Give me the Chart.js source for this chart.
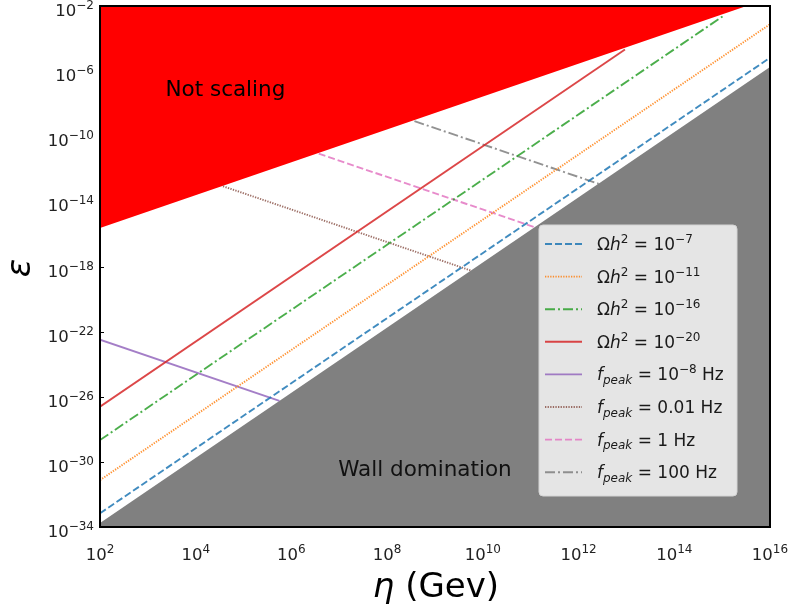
<!DOCTYPE html>
<html>
<head>
<meta charset="utf-8">
<script src="https://cdn.jsdelivr.net/npm/chart.js@4.4.0/dist/chart.umd.min.js"></script>
<style>
  html, body { margin: 0; padding: 0; background: #fff; }
</style>
</head>
<body>
<canvas id="myChart" width="790" height="612"></canvas>
<script>
// all values are log10
var xTickExps = [2, 4, 6, 8, 10, 12, 14, 16];
var yTickExps = [-34, -30, -26, -22, -18, -14, -10, -6, -2];

// shaded regions (two ends of the boundary line)
var notScalingEta = [2, 15.51];
var notScalingEps = [-15.64, -2];
var wallEta = [2, 16];
var wallEps = [-33.75, -5.75];

// Omega h^2 lines
var omegaExps = ['−7', '−11', '−16', '−20'];
var omegaEta = [[2, 16], [2, 16], [2, 15.02], [2, 12.97]];
var omegaEps = [[-33.16, -5.18], [-31.12, -3.12], [-28.66, -2.62], [-26.61, -4.67]];

// f_peak lines
var fpeakBase = ['10', '0.01', '1', '100'];
var fpeakExp = ['−8', '', '', ''];
var fpeakEta = [[2, 5.75], [4.57, 9.75], [6.57, 11.08], [8.57, 12.42]];
var fpeakEps = [[-22.5, -26.25], [-13.07, -18.25], [-11.07, -15.58], [-9.07, -12.92]];

var omegaColors = ['rgba(31,119,180,0.85)', 'rgba(255,127,14,0.85)', 'rgba(44,160,44,0.85)', 'rgba(214,39,40,0.85)'];
var fpeakColors = ['rgba(148,103,189,0.85)', 'rgba(140,86,75,0.85)', 'rgba(227,119,194,0.85)', 'rgba(127,127,127,0.85)'];
var DASHED = [7, 3], DOTTED = [1.3, 1.3], DASHDOT = [10, 3, 2, 3], SOLID = [];
var omegaDash = [DASHED, DOTTED, DASHDOT, SOLID];
var fpeakDash = [SOLID, DOTTED, DASHED, DASHDOT];

function pts(eta, eps) {
    var out = [];
    for (var i = 0; i < eta.length; i++) {
        out.push({x: Math.pow(10, eta[i]), y: Math.pow(10, eps[i])});
    }
    return out;
}

var datasets = [];
for (let i = 0; i < 4; i++) {
    datasets.push({
        data: pts(omegaEta[i], omegaEps[i]), showLine: true, pointRadius: 0,
        borderColor: omegaColors[i], borderWidth: 1.9, borderDash: omegaDash[i], fill: false, order: 1
    });
}
for (let i = 0; i < 4; i++) {
    datasets.push({
        data: pts(fpeakEta[i], fpeakEps[i]), showLine: true, pointRadius: 0,
        borderColor: fpeakColors[i], borderWidth: 1.9, borderDash: fpeakDash[i], fill: false, order: 1
    });
}
datasets.push({
    data: pts(notScalingEta, notScalingEps), showLine: true, pointRadius: 0,
    borderWidth: 0, borderColor: 'rgba(0,0,0,0)', backgroundColor: '#ff0000', fill: 'end', order: 2
});
datasets.push({
    data: pts(wallEta, wallEps), showLine: true, pointRadius: 0,
    borderWidth: 0, borderColor: 'rgba(0,0,0,0)', backgroundColor: '#808080', fill: 'start', order: 2
});

var FONT = '"DejaVu Sans", sans-serif';

// draws text pieces: n = normal, i = italic, sup = superscript, isub = italic subscript
function drawRich(ctx, x, y, parts, size, supSize, supRise) {
    for (var i = 0; i < parts.length; i++) {
        var t = parts[i][0], k = parts[i][1];
        var small = (k == 'sup' || k == 'isub');
        var s = small ? supSize : size;
        var it = (k == 'i' || k == 'isub') ? 'italic ' : '';
        ctx.font = it + s + 'px ' + FONT;
        var dy = k == 'sup' ? -supRise : (k == 'isub' ? size * 0.22 : 0);
        ctx.fillText(t, x, y + dy);
        x += ctx.measureText(t).width;
    }
    return x;
}
function richWidth(ctx, parts, size, supSize) {
    var w = 0;
    for (var i = 0; i < parts.length; i++) {
        var k = parts[i][1];
        var s = (k == 'sup' || k == 'isub') ? supSize : size;
        ctx.font = ((k == 'i' || k == 'isub') ? 'italic ' : '') + s + 'px ' + FONT;
        w += ctx.measureText(parts[i][0]).width;
    }
    return w;
}
function powParts(e) {
    return [['10', 'n'], [String(e).replace('-', '−'), 'sup']];
}

var extras = {
    id: 'extras',
    beforeDatasetsDraw: function(chart) {
        // inward tick marks, under the shaded regions
        var ctx = chart.ctx, xs = chart.scales.x, ys = chart.scales.y, a = chart.chartArea;
        ctx.save();
        ctx.strokeStyle = '#000';
        ctx.lineWidth = 1;
        ctx.beginPath();
        yTickExps.forEach(function(e) {
            var py = Math.round(ys.getPixelForValue(Math.pow(10, e))) + 0.5;
            ctx.moveTo(a.left, py); ctx.lineTo(a.left + 4, py);
        });
        xTickExps.forEach(function(e) {
            var px = Math.round(xs.getPixelForValue(Math.pow(10, e))) + 0.5;
            ctx.moveTo(px, a.bottom); ctx.lineTo(px, a.bottom - 4);
        });
        ctx.stroke();
        ctx.restore();
    },
    afterDatasetsDraw: function(chart) {
        var ctx = chart.ctx, xs = chart.scales.x, ys = chart.scales.y, a = chart.chartArea;
        ctx.save();
        // region labels
        ctx.fillStyle = '#000';
        ctx.font = '21.5px ' + FONT;
        ctx.textAlign = 'center';
        ctx.textBaseline = 'middle';
        ctx.fillText('Not scaling', xs.getPixelForValue(Math.pow(10, 4.62)), ys.getPixelForValue(Math.pow(10, -7.16)));
        ctx.fillStyle = '#111';
        ctx.fillText('Wall domination', xs.getPixelForValue(Math.pow(10, 8.79)), ys.getPixelForValue(Math.pow(10, -30.5)));

        // frame
        ctx.strokeStyle = '#000';
        ctx.lineWidth = 2;
        ctx.strokeRect(a.left, a.top, a.right - a.left, a.bottom - a.top);

        // tick labels
        ctx.textAlign = 'left';
        ctx.textBaseline = 'alphabetic';
        ctx.fillStyle = '#222';
        xTickExps.forEach(function(e) {
            var p = powParts(e);
            var w = richWidth(ctx, p, 16.5, 12);
            drawRich(ctx, xs.getPixelForValue(Math.pow(10, e)) - w / 2, a.bottom + 33, p, 16.5, 12, 7);
        });
        yTickExps.forEach(function(e) {
            var p = powParts(e);
            var w = richWidth(ctx, p, 16.5, 12);
            drawRich(ctx, a.left - 6 - w, ys.getPixelForValue(Math.pow(10, e)) + 10, p, 16.5, 12, 7);
        });

        // legend
        var lx = 539, ly = 225, lw = 198, lh = 271;
        ctx.beginPath();
        ctx.roundRect(lx, ly, lw, lh, 4);
        ctx.fillStyle = 'rgba(229,229,229,1)';
        ctx.fill();
        ctx.strokeStyle = '#d4d4d4';
        ctx.lineWidth = 1;
        ctx.stroke();

        var rows = [];
        for (var i = 0; i < 4; i++) {
            rows.push({c: omegaColors[i], d: omegaDash[i],
                parts: [['Ω', 'n'], ['h', 'i'], ['2', 'sup'], [' = ', 'n'], ['10', 'n'], [omegaExps[i], 'sup']]});
        }
        for (var i = 0; i < 4; i++) {
            var p = [['f', 'i'], ['peak', 'isub'], [' = ', 'n'], [fpeakBase[i], 'n']];
            if (fpeakExp[i]) p.push([fpeakExp[i], 'sup']);
            p.push([' Hz', 'n']);
            rows.push({c: fpeakColors[i], d: fpeakDash[i], parts: p});
        }
        for (var r = 0; r < rows.length; r++) {
            var cy = 244 + r * 32.6;
            ctx.beginPath();
            ctx.setLineDash(rows[r].d);
            ctx.strokeStyle = rows[r].c;
            ctx.lineWidth = 1.9;
            ctx.moveTo(545, cy);
            ctx.lineTo(582, cy);
            ctx.stroke();
            ctx.setLineDash([]);
            ctx.fillStyle = '#1a1a1a';
            drawRich(ctx, 597, cy + 6, rows[r].parts, 17, 12, 7);
        }

        // axis titles
        ctx.fillStyle = '#000';
        var xt = [['η', 'i'], [' (Gev)', 'n']];
        var xw = richWidth(ctx, xt, 34, 24);
        drawRich(ctx, 436 - xw / 2, 597, xt, 34, 24, 0);

        ctx.save();
        ctx.translate(21, 268);
        ctx.rotate(-Math.PI / 2);
        ctx.font = 'italic 34px ' + FONT;
        ctx.textAlign = 'center';
        ctx.textBaseline = 'alphabetic';
        ctx.fillText('ε', 0, 9);
        ctx.restore();
        ctx.restore();
    }
};

function fixPadding(s) {
    s.paddingLeft = 0; s.paddingRight = 0; s.paddingTop = 0; s.paddingBottom = 0;
}

var ctx = document.getElementById('myChart').getContext('2d');
var myChart = new Chart(ctx, {
    type: 'scatter',
    data: {datasets: datasets},
    options: {
        responsive: false,
        animation: false,
        layout: {padding: {top: 6, right: 20, left: 0, bottom: 0}},
        plugins: {legend: {display: false}, tooltip: {enabled: false}},
        scales: {
            x: {
                type: 'logarithmic', min: 1e2, max: 1e16,
                afterBuildTicks: function(s) { s.ticks = xTickExps.map(function(e) { return {value: Math.pow(10, e)}; }); },
                afterFit: function(s) { s.height = 85; fixPadding(s); },
                ticks: {display: false},
                grid: {display: false},
                border: {display: false}
            },
            y: {
                type: 'logarithmic', min: 1e-34, max: 1e-2,
                afterBuildTicks: function(s) { s.ticks = yTickExps.map(function(e) { return {value: Math.pow(10, e)}; }); },
                afterFit: function(s) { s.width = 100; fixPadding(s); },
                ticks: {display: false},
                grid: {display: false},
                border: {display: false}
            }
        }
    },
    plugins: [extras]
});
</script>
</body>
</html>
